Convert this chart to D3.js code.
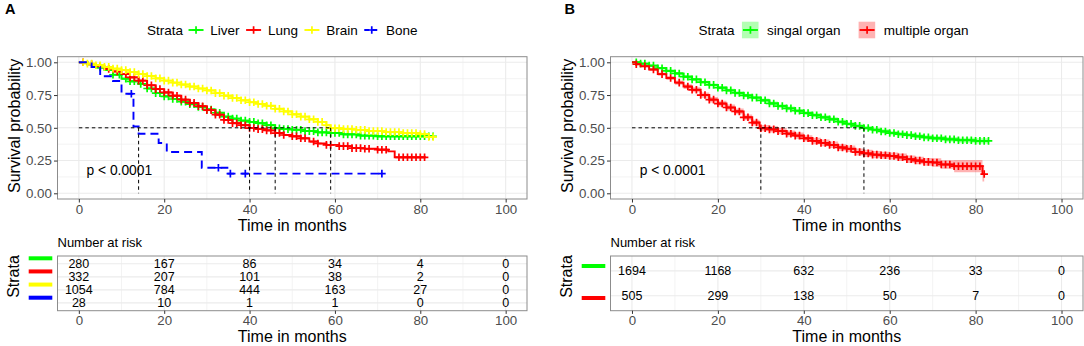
<!DOCTYPE html>
<html>
<head>
<meta charset="utf-8">
<script src="https://cdn.jsdelivr.net/npm/d3@7"></script>
<style>
  body { margin: 0; background: #fff; }
  svg { display: block; font-family: "Liberation Sans", Arial, Helvetica, sans-serif; }
</style>
</head>
<body>
<script>
// axis ticks
const xTicks = [0, 20, 40, 60, 80, 100];
const xMinor = [10, 30, 50, 70, 90];
const yTicks = [0, 0.25, 0.5, 0.75, 1];
const yMinor = [0.125, 0.375, 0.625, 0.875];
const riskTimes = [0, 20, 40, 60, 80, 100];
const pText = "p < 0.0001";

// ---- panel A : site of metastasis ----
const strataA = ["Liver", "Lung", "Brain", "Bone"];
const colorsA = ["#00ff00", "#ff0000", "#ffff00", "#0000ff"];

const liverKM = [[0,1],[2,0.985],[4,0.96],[6,0.94],[8,0.905],[10,0.875],[12,0.855],[14,0.835],[16,0.80],[18,0.765],[20,0.74],[22,0.72],[24,0.70],[26,0.68],[28,0.66],[30,0.64],[32,0.615],[34,0.585],[36,0.57],[38,0.555],[40,0.545],[42,0.535],[44,0.52],[46,0.497],[48,0.49],[50,0.485],[53,0.475],[56,0.465],[59,0.46],[62,0.45],[66,0.44],[70,0.435],[83,0.435]];
const lungKM = [[0,1],[2,0.985],[4,0.97],[6,0.95],[8,0.93],[10,0.91],[12,0.885],[14,0.86],[16,0.825],[18,0.795],[20,0.77],[22,0.745],[24,0.715],[26,0.69],[28,0.665],[30,0.635],[32,0.60],[34,0.56],[36,0.535],[38,0.52],[40,0.498],[42,0.49],[44,0.48],[46,0.46],[48,0.445],[50,0.435],[52,0.42],[54,0.395],[56,0.38],[58,0.37],[61,0.36],[64,0.345],[67,0.34],[70,0.333],[72.5,0.32],[74,0.275],[81.3,0.275]];
const brainKM = [[0,1],[2,0.99],[4,0.978],[6,0.965],[8,0.952],[10,0.94],[12,0.925],[14,0.91],[16,0.895],[18,0.877],[20,0.86],[22,0.845],[24,0.83],[26,0.815],[28,0.80],[30,0.785],[32,0.765],[34,0.745],[36,0.727],[38,0.71],[40,0.695],[42,0.682],[44,0.668],[46,0.645],[48,0.625],[50,0.603],[52,0.585],[54,0.565],[56,0.545],[58,0.52],[59,0.497],[62,0.49],[65,0.484],[68,0.475],[72,0.467],[76,0.46],[80,0.452],[82,0.43],[83,0.43]];
const boneKM = [[0,1],[3,0.964],[5,0.893],[8,0.857],[10,0.76],[12.8,0.51],[14,0.455],[18.7,0.384],[20.6,0.315],[28.8,0.195],[34.8,0.15],[71,0.15]];

const liverCensor = [5,8,9.5,11,12,13,14.5,16,17,18,19,20,21,22,23,24,25,26,27,28,29,30,31,32,33,34,35,36,37,38,39,40,41,42,43,44,45,46,47,48,49,50,51,52,53,54,55,56,57,58,59,60,61,62,63,64,65,66,67,68,69,70,71,72,73,74,75,76,77,78,79,80,81,82,83];
const lungCensor = [1,3,5,7,9,11,12,13,14,15,16,17,18,19,20,21,22,23,24,25,26,27,28,29,30,31,32,33,34,35,36,37,38,39,40,41,42,43,44,45,46,47,48,50,51,52,53,55,56,58,59,61,62,63,64,65,66,67,68,70,71,72,75,76,77,78,79,80,81];
const brainCensor = [1,2,3,4,5,6,7,8,9,10,11,12,13,14,15,16,17,18,19,20,21,22,23,24,25,26,27,28,29,30,31,32,33,34,35,36,37,38,39,40,41,42,43,44,45,46,47,48,49,50,51,52,53,54,55,56,57,58,59,60,61,62,63,64,65,66,67,68,69,70,71,72,73,74,75,76,77,78,79,80,81,82,83];
const boneCensor = [12.3,32.7,35.5,39,71];

const riskLiver = [280,167,86,34,4,0];
const riskLung = [332,207,101,38,2,0];
const riskBrain = [1054,784,444,163,27,0];
const riskBone = [28,10,1,1,0,0];
const mediansA = [46,40,59,14];

// ---- panel B : number of organs ----
const strataB = ["singal organ", "multiple organ"];
const colorsB = ["#00ff00", "#ff0000"];

const singleKM = [[0,1],[2,0.99],[4,0.975],[6,0.955],[8,0.935],[10,0.915],[12,0.89],[14,0.87],[16,0.848],[18,0.828],[20,0.806],[22,0.786],[24,0.766],[26,0.747],[28,0.73],[30,0.71],[32,0.686],[34,0.666],[36,0.648],[38,0.63],[40,0.612],[42,0.596],[44,0.58],[46,0.565],[48,0.546],[50,0.53],[52,0.515],[54,0.498],[56,0.485],[58,0.472],[60,0.46],[62,0.451],[64,0.444],[66,0.435],[68,0.427],[70,0.42],[73,0.412],[76,0.405],[80,0.4],[83,0.4]];
const singleLo = [1,0.987,0.971,0.949,0.928,0.907,0.881,0.86,0.837,0.817,0.794,0.774,0.753,0.734,0.717,0.697,0.672,0.652,0.634,0.616,0.597,0.581,0.565,0.55,0.531,0.515,0.5,0.483,0.469,0.456,0.444,0.435,0.428,0.419,0.41,0.403,0.394,0.386,0.38,0.38];
const singleHi = [1,0.993,0.979,0.961,0.942,0.923,0.899,0.88,0.859,0.839,0.818,0.798,0.779,0.76,0.743,0.723,0.70,0.68,0.662,0.644,0.627,0.611,0.595,0.58,0.561,0.545,0.53,0.513,0.501,0.488,0.476,0.467,0.46,0.451,0.444,0.437,0.43,0.424,0.42,0.42];

const multiKM = [[0,1],[1,0.985],[2,0.97],[4,0.945],[6,0.91],[8,0.88],[10,0.845],[12,0.815],[14,0.79],[16,0.75],[18,0.715],[20,0.685],[22,0.655],[24,0.625],[26,0.58],[28,0.54],[29.7,0.497],[32,0.488],[34,0.475],[36,0.455],[38,0.44],[40,0.42],[42,0.40],[44,0.385],[46,0.37],[48,0.35],[50,0.34],[52,0.315],[54,0.305],[56,0.295],[58,0.29],[60,0.285],[62,0.275],[64,0.26],[66,0.25],[68,0.24],[70,0.235],[72,0.22],[75,0.207],[81.6,0.147],[82,0.147]];
const multiLo = [1,0.979,0.962,0.935,0.897,0.865,0.828,0.797,0.771,0.73,0.694,0.663,0.633,0.603,0.558,0.518,0.473,0.464,0.451,0.431,0.416,0.396,0.375,0.36,0.345,0.325,0.315,0.288,0.278,0.268,0.263,0.258,0.246,0.231,0.221,0.211,0.203,0.188,0.16,0.09,0.09];
const multiHi = [1,0.991,0.978,0.955,0.923,0.895,0.862,0.833,0.809,0.77,0.736,0.707,0.677,0.647,0.602,0.562,0.521,0.512,0.499,0.479,0.464,0.444,0.425,0.41,0.395,0.375,0.365,0.342,0.332,0.322,0.317,0.312,0.304,0.289,0.279,0.269,0.267,0.252,0.255,0.215,0.215];

const singleCensor = [1,2,3,4,5,6,7,8,9,10,11,12,13,14,15,16,17,18,19,20,21,22,23,24,25,26,27,28,29,30,31,32,33,34,35,36,37,38,39,40,41,42,43,44,45,46,47,48,49,50,51,52,53,54,55,56,57,58,59,60,61,62,63,64,65,66,67,68,69,70,71,72,73,74,75,76,77,78,79,80,81,82,83];
const multiCensor = [1,3,5,7,9,11,13,14,15,16,17,18,19,20,21,22,23,24,25,26,27,28,29,30,31,32,33,34,35,36,37,38,39,40,41,42,43,44,45,46,47,48,49,50,51,52,53,54,55,56,57,58,59,60,61,62,63,64,65,66,67,68,69,70,71,72,73,74,75,76,77,78,79,80,81,82];

const riskSingle = [1694,1168,632,236,33,0];
const riskMulti = [505,299,138,50,7,0];
const mediansB = [54,30];

// ---- drawing ----
const svg = d3.select("body").append("svg")
    .attr("width", 1084)
    .attr("height", 346);
svg.append("rect").attr("width", 1084).attr("height", 346).attr("fill", "#fff");

const panelTop = 56.7, panelBottom = 199;
const tableTop = 256, tableBottom = 310.7;
const gridCol = "#ebebeb", borderCol = "#8c8c8c";

function survAt(km, t) {
  const i = d3.bisector(d => d[0]).right(km, t) - 1;
  return km[Math.max(0, i)][1];
}

function styleAxis(g, size) {
  g.select(".domain").remove();
  g.selectAll(".tick line").attr("stroke", "#333").attr("stroke-width", 1);
  g.selectAll(".tick text").attr("fill", "#4d4d4d").attr("font-size", size)
    .attr("font-family", "Liberation Sans, Arial, sans-serif");
}

const plusPath = "M-3.8,0H3.8M0,-3.8V3.8";

function drawPanel(o) {
  const x = d3.scaleLinear().domain([-5, 105]).range([o.left, o.right]);
  const y = d3.scaleLinear().domain([0, 1]).range([193.3, 62.3]);
  const g = svg.append("g");

  // panel tag
  g.append("text").attr("x", o.tagX).attr("y", 14)
    .attr("font-size", 14.5).attr("font-weight", "bold").text(o.tag);

  // ---- survival plot ----
  const grid = g.append("g");
  xMinor.forEach(v => grid.append("line").attr("x1", x(v)).attr("x2", x(v))
    .attr("y1", panelTop).attr("y2", panelBottom).attr("stroke", gridCol).attr("stroke-width", 0.6));
  yMinor.forEach(v => grid.append("line").attr("y1", y(v)).attr("y2", y(v))
    .attr("x1", o.left).attr("x2", o.right).attr("stroke", gridCol).attr("stroke-width", 0.6));
  xTicks.forEach(v => grid.append("line").attr("x1", x(v)).attr("x2", x(v))
    .attr("y1", panelTop).attr("y2", panelBottom).attr("stroke", gridCol).attr("stroke-width", 1.1));
  yTicks.forEach(v => grid.append("line").attr("y1", y(v)).attr("y2", y(v))
    .attr("x1", o.left).attr("x2", o.right).attr("stroke", gridCol).attr("stroke-width", 1.1));

  const step = d3.line().x(d => x(d[0])).y(d => y(d[1])).curve(d3.curveStepAfter);

  // confidence bands
  o.series.forEach(s => {
    if (!s.lo) return;
    const band = d3.area().curve(d3.curveStepAfter)
      .x((d, i) => x(d[0])).y0((d, i) => y(s.lo[i])).y1((d, i) => y(s.hi[i]));
    g.append("path").datum(s.km).attr("d", band)
      .attr("fill", s.color).attr("fill-opacity", 0.3);
  });

  // curves and censor marks
  o.series.forEach(s => {
    g.append("path").datum(s.km).attr("d", step)
      .attr("fill", "none").attr("stroke", s.color).attr("stroke-width", 1.9)
      .attr("stroke-dasharray", s.dash || null);
    g.append("g").selectAll("path").data(s.censor).join("path")
      .attr("transform", t => `translate(${x(t)},${y(survAt(s.km, t))})`)
      .attr("d", plusPath).attr("stroke", s.color).attr("stroke-width", 1.7);
  });

  // median survival lines
  const med = g.append("g").attr("stroke", "#000").attr("stroke-width", 1)
    .attr("stroke-dasharray", "3.5,3");
  med.append("line").attr("x1", x(0)).attr("x2", x(d3.max(o.medians)))
    .attr("y1", y(0.5)).attr("y2", y(0.5));
  o.medians.forEach(m => med.append("line").attr("x1", x(m)).attr("x2", x(m))
    .attr("y1", y(0.5)).attr("y2", y(0)));

  // p value
  g.append("text").attr("x", x(1.8)).attr("y", y(0.18)).attr("dy", "0.35em")
    .attr("font-size", 13.8).text(pText);

  g.append("rect").attr("x", o.left).attr("y", panelTop)
    .attr("width", o.right - o.left).attr("height", panelBottom - panelTop)
    .attr("fill", "none").attr("stroke", borderCol).attr("stroke-width", 1);

  const ya = g.append("g").attr("transform", `translate(${o.left},0)`)
    .call(d3.axisLeft(y).tickValues(yTicks).tickFormat(d3.format(".2f")).tickSize(3.5).tickPadding(2.2));
  styleAxis(ya, 13.3);
  const xa = g.append("g").attr("transform", `translate(0,${panelBottom})`)
    .call(d3.axisBottom(x).tickValues(xTicks).tickSize(3.5).tickPadding(2.2));
  styleAxis(xa, 13.3);

  g.append("text").attr("transform", `translate(${o.left - 37.8},${(panelTop + panelBottom) / 2 - 2}) rotate(-90)`)
    .attr("text-anchor", "middle").attr("font-size", 16).text("Survival probability");
  g.append("text").attr("x", (o.left + o.right) / 2).attr("y", 231)
    .attr("text-anchor", "middle").attr("font-size", 16).text("Time in months");

  // ---- legend ----
  const lg = g.append("g").attr("font-size", 13.5);
  let cx = o.legendX;
  const lt = lg.append("text").attr("x", cx).attr("y", 34.7).text("Strata");
  cx += lt.node().getComputedTextLength() + o.gapTitle;
  o.series.forEach(s => {
    if (s.lo) {
      lg.append("rect").attr("x", cx).attr("y", 21.7).attr("width", 16.6).attr("height", 16.6)
        .attr("fill", s.color).attr("fill-opacity", 0.3);
    }
    lg.append("line").attr("x1", cx + 1).attr("x2", cx + 16).attr("y1", 30).attr("y2", 30)
      .attr("stroke", s.color).attr("stroke-width", 1.9).attr("stroke-dasharray", s.dash ? "5,3" : null);
    lg.append("path").attr("transform", `translate(${cx + 8.5},30)`).attr("d", plusPath)
      .attr("stroke", s.color).attr("stroke-width", 1.7);
    const lab = lg.append("text").attr("x", cx + 17.3 + o.gapKey).attr("y", 34.7).text(s.name);
    cx += 17.3 + o.gapKey + lab.node().getComputedTextLength() + o.gapItem;
  });

  // ---- risk table ----
  const ry = d3.scalePoint().domain(o.series.map(s => s.name))
    .range([tableTop, tableBottom]).padding(0.6);
  const by = d3.scalePoint().domain(o.series.map(s => s.name))
    .range(o.barRange);
  const tg = g.append("g");
  xMinor.concat(xTicks).forEach((v, i) => tg.append("line").attr("x1", x(v)).attr("x2", x(v))
    .attr("y1", tableTop).attr("y2", tableBottom).attr("stroke", gridCol)
    .attr("stroke-width", i < xMinor.length ? 0.6 : 1.1));
  o.series.forEach(s => tg.append("line").attr("x1", o.left).attr("x2", o.right)
    .attr("y1", ry(s.name)).attr("y2", ry(s.name)).attr("stroke", gridCol).attr("stroke-width", 1.1));
  tg.append("rect").attr("x", o.left).attr("y", tableTop)
    .attr("width", o.right - o.left).attr("height", tableBottom - tableTop)
    .attr("fill", "none").attr("stroke", borderCol).attr("stroke-width", 1);

  o.series.forEach(s => {
    tg.append("g").selectAll("text").data(s.risk).join("text")
      .attr("x", (d, i) => x(riskTimes[i])).attr("y", ry(s.name)).attr("dy", "0.36em")
      .attr("text-anchor", "middle").attr("font-size", 12.5).text(d => d);
    tg.append("rect").attr("x", o.left - 5.2 - 23.6).attr("y", by(s.name) - 2)
      .attr("width", 23.6).attr("height", 4).attr("fill", s.color);
  });

  tg.append("text").attr("x", o.left).attr("y", 246.8).attr("font-size", 13).text("Number at risk");
  const ta = tg.append("g").attr("transform", `translate(0,${tableBottom})`)
    .call(d3.axisBottom(x).tickValues(xTicks).tickSize(3.2).tickPadding(1.6));
  styleAxis(ta, 13.3);
  tg.append("text").attr("x", (o.left + o.right) / 2).attr("y", 342.3)
    .attr("text-anchor", "middle").attr("font-size", 16).text("Time in months");
  tg.append("text").attr("transform", `translate(${o.left - 38.5},276.5) rotate(-90)`)
    .attr("text-anchor", "middle").attr("font-size", 16).text("Strata");
}

drawPanel({
  tag: "A", tagX: 5, left: 57.5, right: 527,
  legendX: 147, gapTitle: 4.5, gapKey: 5.5, gapItem: 5.5,
  barRange: [258.3, 297.7],
  medians: mediansA,
  series: [
    {name: strataA[0], color: colorsA[0], km: liverKM, censor: liverCensor, risk: riskLiver},
    {name: strataA[1], color: colorsA[1], km: lungKM, censor: lungCensor, risk: riskLung},
    {name: strataA[2], color: colorsA[2], km: brainKM, censor: brainCensor, risk: riskBrain},
    {name: strataA[3], color: colorsA[3], km: boneKM, censor: boneCensor, risk: riskBone, dash: "8,5"}
  ]
});

drawPanel({
  tag: "B", tagX: 564.5, left: 610.5, right: 1083,
  legendX: 698.6, gapTitle: 7.3, gapKey: 7.8, gapItem: 18,
  barRange: [266, 298],
  medians: mediansB,
  series: [
    {name: strataB[0], color: colorsB[0], km: singleKM, lo: singleLo, hi: singleHi, censor: singleCensor, risk: riskSingle},
    {name: strataB[1], color: colorsB[1], km: multiKM, lo: multiLo, hi: multiHi, censor: multiCensor, risk: riskMulti}
  ]
});
</script>
</body>
</html>
